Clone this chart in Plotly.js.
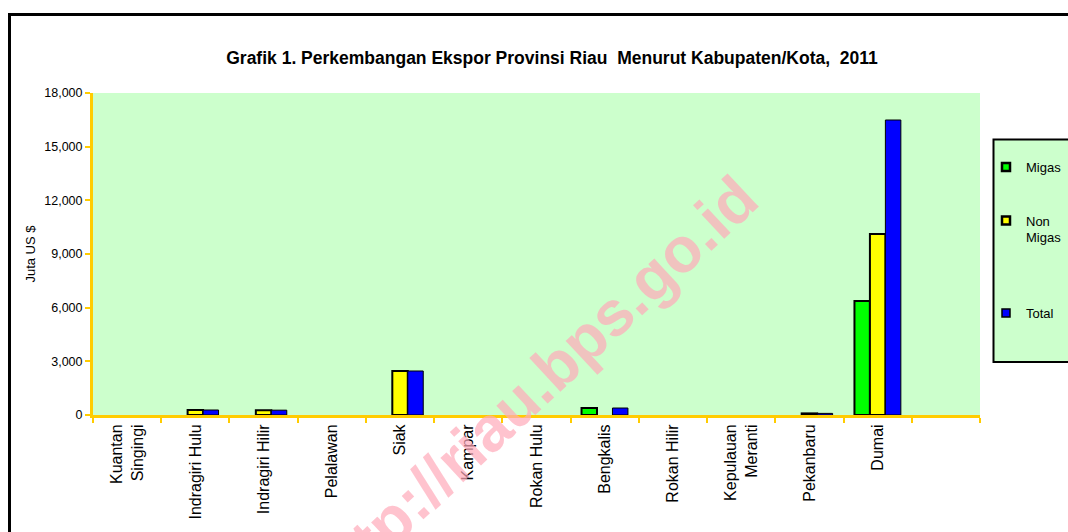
<!DOCTYPE html>
<html>
<head>
<meta charset="utf-8">
<script src="https://cdn.plot.ly/plotly-3.0.1.min.js"></script>
<style>
  html, body { margin: 0; padding: 0; background: #ffffff; }
  #chart { width: 1068px; height: 532px; }
</style>
</head>
<body>
<div id="chart"></div>
<script>
// ---- data (Juta US $); null = no bar shown ----
const categories = ["Kuantan<br>Singingi", "Indragiri Hulu", "Indragiri Hilir", "Pelalawan", "Siak", "Kampar",
  "Rokan Hulu", "Bengkalis", "Rokan Hilir", "Kepulauan<br>Meranti", "Pekanbaru", "Dumai"];
const emptyCategory = [" "];
const migas    = [null, null, null, null, null, null, null, 390,  null, null, null, 6370];
const nonMigas = [null, 280,  270,  null, 2460, null, null, null, null, null, 90,   10120];
const total    = [null, 280,  270,  null, 2460, null, null, 390,  null, null, 90,   16490];
const seriesNames = ["Migas", "Non<br>Migas", "Total"];
const yTicks = [0, 3000, 6000, 9000, 12000, 15000, 18000];

const FONT = "Liberation Sans, Arial, sans-serif";
const GOLD = "#FFCC00";

// plot-area pixel geometry used to convert frame/legend positions to paper coords
const L = 93, R = 980, T = 93, B = 415;
const px = x => (x - L) / (R - L);
const py = y => (B - y) / (B - T);

const styles = [
  { color: "#00FF00", lw: 2, legend: "legend" },
  { color: "#FFFF00", lw: 2, legend: "legend2" },
  { color: "#0000FF", lw: 1, legend: "legend3" }
];
const seriesValues = [migas, nonMigas, total];

const bars = seriesValues.map((vals, i) => ({
  type: "bar",
  x: categories,
  y: vals,
  name: seriesNames[i],
  showlegend: false,
  marker: { color: styles[i].color, line: { color: "#000000", width: styles[i].lw } },
  hoverinfo: "skip"
}));

// legend-only entries (small square keys like the original)
const keys = seriesNames.map((n, i) => ({
  type: "scatter", mode: "markers",
  x: [null], y: [null],
  name: n,
  legend: styles[i].legend,
  showlegend: true,
  marker: { symbol: "square", size: 8, color: styles[i].color, line: { color: "#000000", width: styles[i].lw + 0.5 } },
  hoverinfo: "skip"
}));

const legendBase = {
  xanchor: "left", x: px(986),
  yanchor: "middle",
  bgcolor: "rgba(0,0,0,0)", borderwidth: 0,
  font: { family: FONT, size: 13, color: "#000000" },
  valign: "top", itemwidth: 30
};

const layout = {
  width: 1068, height: 532,
  margin: { l: L, r: 1068 - R, t: T, b: 532 - B, autoexpand: false },
  paper_bgcolor: "#ffffff",
  plot_bgcolor: "#CCFFCC",
  font: { family: FONT, size: 12, color: "#000000" },
  title: {
    text: "<b>Grafik 1. Perkembangan Ekspor Provinsi Riau  Menurut Kabupaten/Kota,  2011</b>",
    font: { family: FONT, size: 17.5, color: "#000000" },
    xref: "container", yref: "container",
    x: 552 / 1068, xanchor: "center",
    y: 1 - 58 / 532, yanchor: "middle"
  },
  barmode: "group",
  bargap: 0.32,
  bargroupgap: 0,
  showlegend: true,
  legend:  Object.assign({}, legendBase, { y: py(167) }),
  legend2: Object.assign({}, legendBase, { y: py(229) }),
  legend3: Object.assign({}, legendBase, { y: py(313) }),
  xaxis: {
    type: "category",
    categoryorder: "array",
    categoryarray: categories.concat(emptyCategory),
    range: [-0.5, categories.length + emptyCategory.length - 0.5],
    tickangle: -90,
    tickson: "boundaries",
    ticks: "outside", ticklen: 5, tickwidth: 2, tickcolor: GOLD,
    showline: true, linecolor: GOLD, linewidth: 3,
    showgrid: false, zeroline: false,
    tickfont: { family: FONT, size: 16, color: "#000000" },
    fixedrange: true
  },
  yaxis: {
    range: [0, 18000],
    tickvals: yTicks,
    tickformat: ",d",
    ticks: "outside", ticklen: 5, tickwidth: 2, tickcolor: GOLD,
    showline: true, linecolor: GOLD, linewidth: 3,
    showgrid: false, zeroline: false,
    tickfont: { family: FONT, size: 12.5, color: "#000000" },
    title: { text: "Juta US $", font: { family: FONT, size: 13, color: "#000000" }, standoff: 6 },
    fixedrange: true
  },
  shapes: [
    // outer chart frame (cropped on right and bottom)
    { type: "rect", xref: "paper", yref: "paper", layer: "above",
      x0: px(9.5), x1: px(1090), y0: py(560), y1: py(14.5),
      line: { color: "#000000", width: 3 }, fillcolor: "rgba(0,0,0,0)" },
    // legend box
    { type: "rect", xref: "paper", yref: "paper", layer: "below",
      x0: px(993.5), x1: px(1090), y0: py(362), y1: py(139.5),
      line: { color: "#000000", width: 2 }, fillcolor: "#CCFFCC" }
  ],
  annotations: [
    { text: "<b>http://riau.bps.go.id</b>", xref: "paper", yref: "paper",
      x: px(532), y: py(388), xanchor: "center", yanchor: "middle",
      textangle: -43, showarrow: false,
      font: { family: FONT, size: 63, color: "rgba(255,170,185,0.7)" } }
  ]
};

Plotly.newPlot("chart", bars.concat(keys), layout, { staticPlot: true, displayModeBar: false });
</script>
</body>
</html>
